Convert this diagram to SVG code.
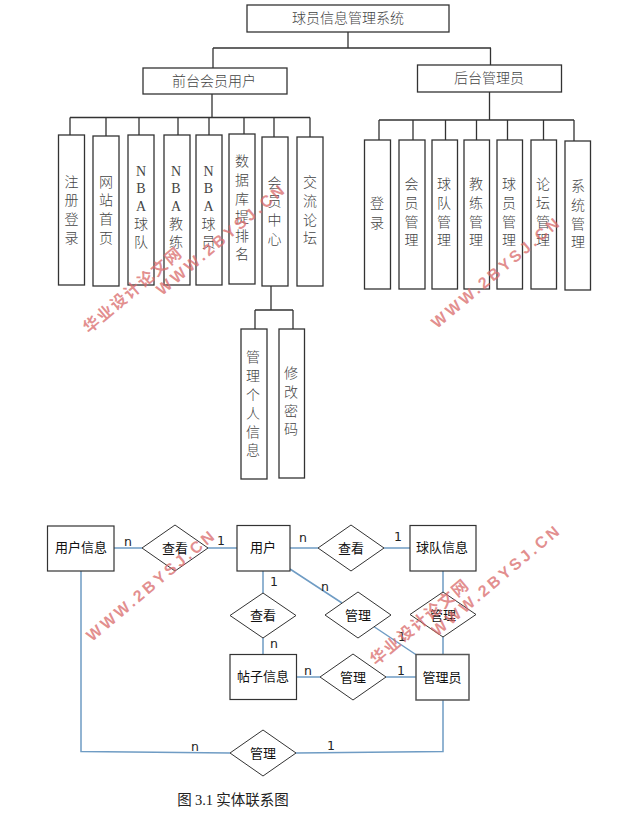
<svg xmlns="http://www.w3.org/2000/svg" width="631" height="815" viewBox="0 0 631 815">
<style>
text{font-family:"Noto Sans CJK SC","Liberation Sans",sans-serif;text-anchor:middle}
.box{fill:#fff;stroke:#333;stroke-width:1.3}
.t{font-size:14px;fill:#444;font-weight:300}
text.v{font-size:14px;fill:#444;font-weight:300;writing-mode:vertical-rl;text-orientation:upright;letter-spacing:4.6px;text-anchor:start}
.s{font-family:"Liberation Serif","Noto Sans CJK SC",serif}
.e{fill:#fff;stroke:#333;stroke-width:1.2}
.d{fill:#fff;stroke:#333;stroke-width:1}
.l{font-size:13px;fill:#111}
.n{font-family:"DejaVu Sans",sans-serif;font-size:12.500px;fill:#222}
.tree{fill:none;stroke:#333;stroke-width:1.3}
.er{fill:none;stroke:#6f9cc4;stroke-width:1.5}
text.wm{font-family:"Liberation Sans","Noto Sans CJK SC",sans-serif;font-weight:700;font-size:16px;fill:#d96a6a;fill-opacity:.75;text-anchor:start}
</style>
<g id="tree-connectors" class="tree">
<path d="M348 32V48M213 48H491M213 48V68M490.500 48V65"/>
<path d="M212 94V117.500M70 117.500H310M70 117.500V135M106 117.500V136M139 117.500V135M178 117.500V135M209 117.500V135M244 117.500V134M274 117.500V137M310 117.500V137"/>
<path d="M489.500 92V120M379 120H574M379 120V140M413 120V140M445.500 120V140M476.500 120V140M507.500 120V140M543.500 120V140M574 120V141"/>
<path d="M271 286V310M255 310H293M255 310V329M293 310V329"/>
</g>
<g id="er-connectors" class="er">
<path d="M114 548H142M208 548H237M290 548H318M384 548H410M263 571V593M263 638V654M296 677H320M386 677H416M443 571V592M443 637V654"/>
<path d="M290 569L342 603M373 626L418 656"/>
<path d="M81 571V751.500L230 753M296 753L443 751.500V700"/>
</g>
<g id="n-root"><rect class="box" x="247" y="5" width="202" height="27"/><text class="t" x="348" y="23">球员信息管理系统</text></g>
<g id="n-front"><rect class="box" x="143" y="68" width="144" height="26"/><text class="t" x="214" y="86">前台会员用户</text></g>
<g id="n-back"><rect class="box" x="417.500" y="65" width="144" height="27"/><text class="t" x="489" y="83">后台管理员</text></g>
<g id="n-f1"><rect class="box" x="58.500" y="135" width="26" height="150"/><text class="v" x="71.500" y="174.500">注册登录</text></g>
<g id="n-f2"><rect class="box" x="93" y="136" width="26" height="150"/><text class="v" x="106" y="174.500">网站首页</text></g>
<g id="n-f3"><rect class="box" x="128" y="135" width="26" height="150"/><text class="v" x="141" y="164"><tspan class="s" style="letter-spacing:2.400px">NBA</tspan>球队</text></g>
<g id="n-f4"><rect class="box" x="164" y="135" width="26" height="150"/><text class="v" x="176" y="164"><tspan class="s" style="letter-spacing:2.400px">NBA</tspan>教练</text></g>
<g id="n-f5"><rect class="box" x="196" y="135" width="26" height="150"/><text class="v" x="208.500" y="164"><tspan class="s" style="letter-spacing:2.400px">NBA</tspan>球员</text></g>
<g id="n-f6"><rect class="box" x="229" y="134" width="26" height="150"/><text class="v" x="242" y="154">数据库提排名</text></g>
<g id="n-f7"><rect class="box" x="262" y="137" width="26" height="149"/><text class="v" x="274.500" y="175.500">会员中心</text></g>
<g id="n-f8"><rect class="box" x="297" y="137" width="26" height="149"/><text class="v" x="310" y="175">交流论坛</text></g>
<g id="n-m1"><rect class="box" x="241" y="329" width="26" height="150"/><text class="v" x="253" y="350">管理个人信息</text></g>
<g id="n-m2"><rect class="box" x="279" y="329" width="25.500" height="149"/><text class="v" x="291" y="366">修改密码</text></g>
<g id="n-b1"><rect class="box" x="364.500" y="140" width="26" height="149"/><text class="v" style="letter-spacing:6px" x="377" y="196">登录</text></g>
<g id="n-b2"><rect class="box" x="399" y="140" width="26" height="149"/><text class="v" x="411.500" y="177">会员管理</text></g>
<g id="n-b3"><rect class="box" x="432" y="140" width="25.500" height="149"/><text class="v" x="444" y="177">球队管理</text></g>
<g id="n-b4"><rect class="box" x="464" y="140" width="25.500" height="149"/><text class="v" x="476" y="177">教练管理</text></g>
<g id="n-b5"><rect class="box" x="497" y="140" width="25.500" height="149"/><text class="v" x="509" y="177">球员管理</text></g>
<g id="n-b6"><rect class="box" x="531" y="140" width="25.500" height="149"/><text class="v" x="543" y="177">论坛管理</text></g>
<g id="n-b7"><rect class="box" x="565" y="141" width="25.500" height="149"/><text class="v" x="578" y="179">系统管理</text></g>

<g id="e-userinfo"><rect class="e" x="47.500" y="526" width="66.500" height="45"/><text class="l" x="81" y="552">用户信息</text></g>
<g id="e-user"><rect class="e" x="237" y="525.500" width="53" height="45.500"/><text class="l" x="263" y="552">用户</text></g>
<g id="e-team"><rect class="e" x="410" y="525.500" width="66" height="45.500"/><text class="l" x="442" y="552">球队信息</text></g>
<g id="e-post"><rect class="e" x="230" y="654.500" width="66.500" height="45"/><text class="l" x="263" y="681">帖子信息</text></g>
<g id="e-admin"><rect class="e" x="416" y="654.500" width="53" height="45.500" style="stroke-width:1.500px;stroke:#555"/><text class="l" x="442" y="682">管理员</text></g>
<g id="r-view1"><path class="d" d="M142 548L175 525L208 548L175 571Z"/><text class="l" x="175" y="553">查看</text></g>
<g id="r-view2"><path class="d" d="M318 548L351 525L384 548L351 571Z"/><text class="l" x="351" y="553">查看</text></g>
<g id="r-view3"><path class="d" d="M230 615.500L263 593L296 615.500L263 638Z"/><text class="l" x="263" y="620">查看</text></g>
<g id="r-m1"><path class="d" d="M325 615L358 592L391 615L358 638Z"/><text class="l" x="358" y="620">管理</text></g>
<g id="r-m2"><path class="d" d="M410 614.500L443 592L476 614.500L443 637Z"/><text class="l" x="443" y="620">管理</text></g>
<g id="r-m3"><path class="d" d="M320 677L353 654L386 677L353 700Z"/><text class="l" x="353" y="682">管理</text></g>
<g id="r-m4"><path class="d" d="M230 753L263 730L296 753L263 776Z"/><text class="l" x="263" y="758">管理</text></g>

<g id="cardinalities">
<text class="n" x="128" y="546">n</text><text class="n" x="221" y="545">1</text><text class="n" x="303" y="542">n</text><text class="n" x="398" y="541">1</text><text class="n" x="274" y="586">1</text><text class="n" x="274" y="648">n</text><text class="n" x="325" y="591">n</text><text class="n" x="402" y="641">1</text><text class="n" x="308" y="675">n</text><text class="n" x="401" y="675">1</text><text class="n" x="195" y="751">n</text><text class="n" x="331" y="750">1</text>
</g>
<text x="233" y="805" style="font-size:14.500px;fill:#222"><tspan>图 </tspan><tspan class="s">3.1</tspan><tspan> 实体联系图</tspan></text>
<g id="watermarks">
<text class="wm" transform="translate(162 296) rotate(-40)" textLength="161">WWW.2BYSJ.CN</text>
<text class="wm" transform="translate(89 334) rotate(-40)" textLength="122">华业设计论文网</text>
<text class="wm" transform="translate(437 329) rotate(-40)" textLength="161">WWW.2BYSJ.CN</text>
<text class="wm" transform="translate(92 642) rotate(-40)" textLength="161">WWW.2BYSJ.CN</text>
<text class="wm" transform="translate(376 666) rotate(-40)" textLength="122">华业设计论文网</text>
<text class="wm" transform="translate(437 637) rotate(-40)" textLength="161">WWW.2BYSJ.CN</text>
</g>
</svg>
